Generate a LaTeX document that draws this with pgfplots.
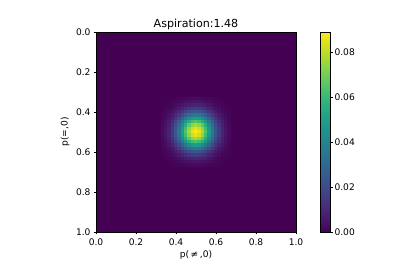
\documentclass[border=0pt]{standalone}
\usepackage{pgfplots}
\pgfplotsset{compat=1.18}
\usepackage{fontspec}
\setmainfont{DejaVu Sans}
\begin{document}
\begin{tikzpicture}[font=\fontsize{9.1}{10.5}\selectfont]
\path[use as bounding box] (-96pt,-34pt) rectangle (303pt,232pt);
\begin{axis}[
  at={(0,0)}, anchor=south west,
  scale only axis, width=200pt, height=200pt,
  xmin=-30, xmax=30, ymin=-30, ymax=30,
  y dir=reverse,
  axis on top,
  axis line style={line width=0.6pt},
  xtick={-30,-18,-6,6,18,30}, xticklabels={0.0,0.2,0.4,0.6,0.8,1.0},
  ytick={-30,-18,-6,6,18,30}, yticklabels={0.0,0.2,0.4,0.6,0.8,1.0},
  tick align=outside, xtick pos=bottom, ytick pos=left,
  major tick length=2.3pt,
  tick style={line width=0.6pt, black},
  xticklabel style={inner sep=1.5pt, yshift=-2.5pt},
  yticklabel style={inner sep=1.5pt, xshift=-1.5pt},
  title={Aspiration:1.48},
  title style={font=\fontsize{11.1}{12}\selectfont, at={(axis description cs:0.5,1)}, anchor=base, yshift=-1.5pt},
  xlabel={p(\,≠\,,0)}, ylabel={p(=,0)},
  xlabel style={at={(axis description cs:0.5,-0.115)}, anchor=center},
  ylabel style={at={(axis description cs:-0.155,0.5)}, anchor=center},
  colormap/viridis,
  point meta min=0, point meta max=0.0892,
  colorbar,
  colorbar style={
    at={(parent axis.north east)}, anchor=north west, xshift=16pt,
    width=10pt,
    scaled y ticks=false,
    ytick={0,0.02,0.04,0.06,0.08},
    yticklabel style={/pgf/number format/fixed, /pgf/number format/fixed zerofill, /pgf/number format/precision=2, /pgf/number format/assume math mode=true, inner sep=1.5pt},
    tick align=outside, ytick pos=right, yticklabel pos=right,
    major tick length=2.3pt,
    axis line style={line width=0.6pt},
    tick style={line width=0.6pt, black},
  },
  /pgf/number format/assume math mode=true,
]
\addplot[matrix plot*, mesh/cols=2, point meta=explicit] coordinates {(-30,-30)[0] (30,-30)[0] (-30,30)[0] (30,30)[0]};
\addplot[matrix plot*, mesh/cols=21, point meta=explicit] table[x=x, y=y, meta=c] {
x y c
-10 -10 0.0001
-9 -10 0.0001
-8 -10 0.0002
-7 -10 0.0004
-6 -10 0.0007
-5 -10 0.0010
-4 -10 0.0013
-3 -10 0.0017
-2 -10 0.0021
-1 -10 0.0023
0 -10 0.0024
1 -10 0.0023
2 -10 0.0021
3 -10 0.0017
4 -10 0.0013
5 -10 0.0010
6 -10 0.0007
7 -10 0.0004
8 -10 0.0002
9 -10 0.0001
10 -10 0.0001
-10 -9 0.0001
-9 -9 0.0003
-8 -9 0.0005
-7 -9 0.0008
-6 -9 0.0013
-5 -9 0.0019
-4 -9 0.0027
-3 -9 0.0035
-2 -9 0.0041
-1 -9 0.0046
0 -9 0.0048
1 -9 0.0046
2 -9 0.0041
3 -9 0.0035
4 -9 0.0027
5 -9 0.0019
6 -9 0.0013
7 -9 0.0008
8 -9 0.0005
9 -9 0.0003
10 -9 0.0001
-10 -8 0.0002
-9 -8 0.0005
-8 -8 0.0009
-7 -8 0.0015
-6 -8 0.0024
-5 -8 0.0036
-4 -8 0.0050
-3 -8 0.0064
-2 -8 0.0076
-1 -8 0.0085
0 -8 0.0088
1 -8 0.0085
2 -8 0.0076
3 -8 0.0064
4 -8 0.0050
5 -8 0.0036
6 -8 0.0024
7 -8 0.0015
8 -8 0.0009
9 -8 0.0005
10 -8 0.0002
-10 -7 0.0004
-9 -7 0.0008
-8 -7 0.0015
-7 -7 0.0026
-6 -7 0.0041
-5 -7 0.0062
-4 -7 0.0085
-3 -7 0.0110
-2 -7 0.0131
-1 -7 0.0146
0 -7 0.0152
1 -7 0.0146
2 -7 0.0131
3 -7 0.0110
4 -7 0.0085
5 -7 0.0062
6 -7 0.0041
7 -7 0.0026
8 -7 0.0015
9 -7 0.0008
10 -7 0.0004
-10 -6 0.0007
-9 -6 0.0013
-8 -6 0.0024
-7 -6 0.0041
-6 -6 0.0066
-5 -6 0.0098
-4 -6 0.0136
-3 -6 0.0175
-2 -6 0.0210
-1 -6 0.0234
0 -6 0.0243
1 -6 0.0234
2 -6 0.0210
3 -6 0.0175
4 -6 0.0136
5 -6 0.0098
6 -6 0.0066
7 -6 0.0041
8 -6 0.0024
9 -6 0.0013
10 -6 0.0007
-10 -5 0.0010
-9 -5 0.0019
-8 -5 0.0036
-7 -5 0.0062
-6 -5 0.0098
-5 -5 0.0146
-4 -5 0.0202
-3 -5 0.0261
-2 -5 0.0312
-1 -5 0.0348
0 -5 0.0361
1 -5 0.0348
2 -5 0.0312
3 -5 0.0261
4 -5 0.0202
5 -5 0.0146
6 -5 0.0098
7 -5 0.0062
8 -5 0.0036
9 -5 0.0019
10 -5 0.0010
-10 -4 0.0013
-9 -4 0.0027
-8 -4 0.0050
-7 -4 0.0085
-6 -4 0.0136
-5 -4 0.0202
-4 -4 0.0280
-3 -4 0.0361
-2 -4 0.0432
-1 -4 0.0482
0 -4 0.0499
1 -4 0.0482
2 -4 0.0432
3 -4 0.0361
4 -4 0.0280
5 -4 0.0202
6 -4 0.0136
7 -4 0.0085
8 -4 0.0050
9 -4 0.0027
10 -4 0.0013
-10 -3 0.0017
-9 -3 0.0035
-8 -3 0.0064
-7 -3 0.0110
-6 -3 0.0175
-5 -3 0.0261
-4 -3 0.0361
-3 -3 0.0465
-2 -3 0.0557
-1 -3 0.0620
0 -3 0.0643
1 -3 0.0620
2 -3 0.0557
3 -3 0.0465
4 -3 0.0361
5 -3 0.0261
6 -3 0.0175
7 -3 0.0110
8 -3 0.0064
9 -3 0.0035
10 -3 0.0017
-10 -2 0.0021
-9 -2 0.0041
-8 -2 0.0076
-7 -2 0.0131
-6 -2 0.0210
-5 -2 0.0312
-4 -2 0.0432
-3 -2 0.0557
-2 -2 0.0667
-1 -2 0.0743
0 -2 0.0770
1 -2 0.0743
2 -2 0.0667
3 -2 0.0557
4 -2 0.0432
5 -2 0.0312
6 -2 0.0210
7 -2 0.0131
8 -2 0.0076
9 -2 0.0041
10 -2 0.0021
-10 -1 0.0023
-9 -1 0.0046
-8 -1 0.0085
-7 -1 0.0146
-6 -1 0.0234
-5 -1 0.0348
-4 -1 0.0482
-3 -1 0.0620
-2 -1 0.0743
-1 -1 0.0828
0 -1 0.0858
1 -1 0.0828
2 -1 0.0743
3 -1 0.0620
4 -1 0.0482
5 -1 0.0348
6 -1 0.0234
7 -1 0.0146
8 -1 0.0085
9 -1 0.0046
10 -1 0.0023
-10 0 0.0024
-9 0 0.0048
-8 0 0.0088
-7 0 0.0152
-6 0 0.0243
-5 0 0.0361
-4 0 0.0499
-3 0 0.0643
-2 0 0.0770
-1 0 0.0858
0 0 0.0890
1 0 0.0858
2 0 0.0770
3 0 0.0643
4 0 0.0499
5 0 0.0361
6 0 0.0243
7 0 0.0152
8 0 0.0088
9 0 0.0048
10 0 0.0024
-10 1 0.0023
-9 1 0.0046
-8 1 0.0085
-7 1 0.0146
-6 1 0.0234
-5 1 0.0348
-4 1 0.0482
-3 1 0.0620
-2 1 0.0743
-1 1 0.0828
0 1 0.0858
1 1 0.0828
2 1 0.0743
3 1 0.0620
4 1 0.0482
5 1 0.0348
6 1 0.0234
7 1 0.0146
8 1 0.0085
9 1 0.0046
10 1 0.0023
-10 2 0.0021
-9 2 0.0041
-8 2 0.0076
-7 2 0.0131
-6 2 0.0210
-5 2 0.0312
-4 2 0.0432
-3 2 0.0557
-2 2 0.0667
-1 2 0.0743
0 2 0.0770
1 2 0.0743
2 2 0.0667
3 2 0.0557
4 2 0.0432
5 2 0.0312
6 2 0.0210
7 2 0.0131
8 2 0.0076
9 2 0.0041
10 2 0.0021
-10 3 0.0017
-9 3 0.0035
-8 3 0.0064
-7 3 0.0110
-6 3 0.0175
-5 3 0.0261
-4 3 0.0361
-3 3 0.0465
-2 3 0.0557
-1 3 0.0620
0 3 0.0643
1 3 0.0620
2 3 0.0557
3 3 0.0465
4 3 0.0361
5 3 0.0261
6 3 0.0175
7 3 0.0110
8 3 0.0064
9 3 0.0035
10 3 0.0017
-10 4 0.0013
-9 4 0.0027
-8 4 0.0050
-7 4 0.0085
-6 4 0.0136
-5 4 0.0202
-4 4 0.0280
-3 4 0.0361
-2 4 0.0432
-1 4 0.0482
0 4 0.0499
1 4 0.0482
2 4 0.0432
3 4 0.0361
4 4 0.0280
5 4 0.0202
6 4 0.0136
7 4 0.0085
8 4 0.0050
9 4 0.0027
10 4 0.0013
-10 5 0.0010
-9 5 0.0019
-8 5 0.0036
-7 5 0.0062
-6 5 0.0098
-5 5 0.0146
-4 5 0.0202
-3 5 0.0261
-2 5 0.0312
-1 5 0.0348
0 5 0.0361
1 5 0.0348
2 5 0.0312
3 5 0.0261
4 5 0.0202
5 5 0.0146
6 5 0.0098
7 5 0.0062
8 5 0.0036
9 5 0.0019
10 5 0.0010
-10 6 0.0007
-9 6 0.0013
-8 6 0.0024
-7 6 0.0041
-6 6 0.0066
-5 6 0.0098
-4 6 0.0136
-3 6 0.0175
-2 6 0.0210
-1 6 0.0234
0 6 0.0243
1 6 0.0234
2 6 0.0210
3 6 0.0175
4 6 0.0136
5 6 0.0098
6 6 0.0066
7 6 0.0041
8 6 0.0024
9 6 0.0013
10 6 0.0007
-10 7 0.0004
-9 7 0.0008
-8 7 0.0015
-7 7 0.0026
-6 7 0.0041
-5 7 0.0062
-4 7 0.0085
-3 7 0.0110
-2 7 0.0131
-1 7 0.0146
0 7 0.0152
1 7 0.0146
2 7 0.0131
3 7 0.0110
4 7 0.0085
5 7 0.0062
6 7 0.0041
7 7 0.0026
8 7 0.0015
9 7 0.0008
10 7 0.0004
-10 8 0.0002
-9 8 0.0005
-8 8 0.0009
-7 8 0.0015
-6 8 0.0024
-5 8 0.0036
-4 8 0.0050
-3 8 0.0064
-2 8 0.0076
-1 8 0.0085
0 8 0.0088
1 8 0.0085
2 8 0.0076
3 8 0.0064
4 8 0.0050
5 8 0.0036
6 8 0.0024
7 8 0.0015
8 8 0.0009
9 8 0.0005
10 8 0.0002
-10 9 0.0001
-9 9 0.0003
-8 9 0.0005
-7 9 0.0008
-6 9 0.0013
-5 9 0.0019
-4 9 0.0027
-3 9 0.0035
-2 9 0.0041
-1 9 0.0046
0 9 0.0048
1 9 0.0046
2 9 0.0041
3 9 0.0035
4 9 0.0027
5 9 0.0019
6 9 0.0013
7 9 0.0008
8 9 0.0005
9 9 0.0003
10 9 0.0001
-10 10 0.0001
-9 10 0.0001
-8 10 0.0002
-7 10 0.0004
-6 10 0.0007
-5 10 0.0010
-4 10 0.0013
-3 10 0.0017
-2 10 0.0021
-1 10 0.0023
0 10 0.0024
1 10 0.0023
2 10 0.0021
3 10 0.0017
4 10 0.0013
5 10 0.0010
6 10 0.0007
7 10 0.0004
8 10 0.0002
9 10 0.0001
10 10 0.0001
};
\end{axis}
\end{tikzpicture}
\end{document}
